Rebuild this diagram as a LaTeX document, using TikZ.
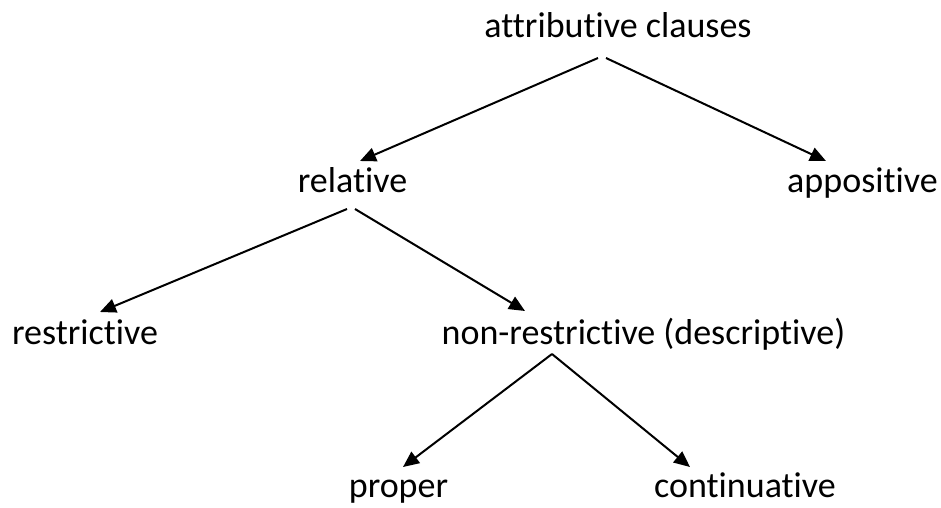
\documentclass[tikz,border=0pt]{standalone}
\usepackage{fontspec}
\setmainfont{Carlito}[Ligatures=NoCommon]
\usetikzlibrary{arrows.meta}

\begin{document}
\begin{tikzpicture}[x=1pt, y=-1pt, line width=2pt,
  lbl/.style={anchor=base, inner sep=0pt, font=\fontsize{36}{43}\selectfont,
    text height=26pt, text depth=8pt},
  link/.style={-{Triangle[length=16pt,width=14pt]}}]
\useasboundingbox (0,0) rectangle (941,507);
% labels, placed at their baselines
\node[lbl] (attr) at (618,37)    {attributive clauses};
\node[lbl] (rel)  at (352.5,192) {relative};
\node[lbl] (app)  at (862.5,192) {appositive};
\node[lbl] (res)  at (85,344)    {restrictive};
\node[lbl] (non)  at (643.4,344) {non-restrictive (descriptive)};
\node[lbl] (prop) at (398.5,497) {proper};
\node[lbl] (cont) at (745,497)   {continuative};
% first split
\draw[link] ([xshift=-20pt,yshift=-12pt]attr.south) -- ([xshift=7.5pt,yshift=4pt]rel.north);
\draw[link] ([xshift=-12pt,yshift=-12pt]attr.south) -- ([xshift=-36.5pt,yshift=4pt]app.north);
% relative
\draw[link] ([xshift=-5.5pt,yshift=-8pt]rel.south) -- ([xshift=15pt,yshift=5pt]res.north);
\draw[link] ([xshift=2.5pt,yshift=-8pt]rel.south) -- ([xshift=-118.4pt,yshift=6pt]non.north);
% non-restrictive, both from one apex
\draw[link] ([xshift=-91.4pt,yshift=-1pt]non.south) -- ([xshift=4.5pt,yshift=3pt]prop.north);
\draw[link] ([xshift=-91.4pt,yshift=-1pt]non.south) -- ([xshift=-55pt,yshift=3pt]cont.north);
\end{tikzpicture}
\end{document}
